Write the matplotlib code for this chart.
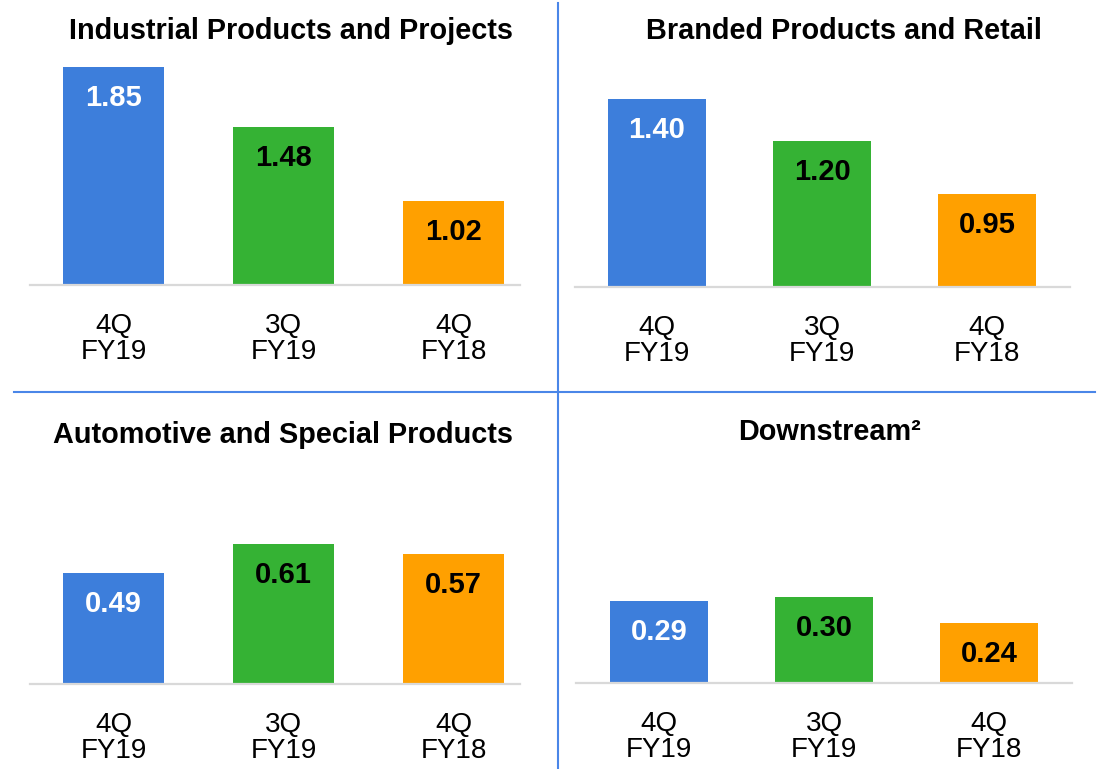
import matplotlib
matplotlib.use("Agg")
import matplotlib.pyplot as plt

plt.rcParams['font.family'] = ['Liberation Sans', 'DejaVu Sans']

W, H = 1101, 769

# chart data
quarters = ["4Q\nFY19", "3Q\nFY19", "4Q\nFY18"]
titles = ["Industrial Products and Projects", "Branded Products and Retail",
          "Automotive and Special Products", "Downstream²"]
industrial = [1.85, 1.48, 1.02]
branded = [1.40, 1.20, 0.95]
automotive = [0.49, 0.61, 0.57]
downstream = [0.29, 0.30, 0.24]
series = [industrial, branded, automotive, downstream]

bar_colors = ["#3D7EDB", "#35B234", "#FFA000"]
label_colors = ["white", "black", "black"]

# panel layout in pixels: left, top, right, baseline, first bar centre, spacing, ymin, px per unit
panels = [
    (30, 50, 520, 285, 113.5, 170, 0.499, 161.4),
    (575, 50, 1070, 287, 657, 165, 0.509, 211.1),
    (30, 450, 520, 684, 113.5, 170, 0.031, 241.7),
    (576, 450, 1072, 683, 659, 165, 0.101, 433.0),
]
title_pos = [(291, 31), (844, 31), (283, 435), (830, 432)]

fig = plt.figure(figsize=(W / 100, H / 100), dpi=100)

for vals, title, (l, t, r, b, c0, sp, ymin, scale), (tx, ty) in zip(series, titles, panels, title_pos):
    ax = fig.add_axes([l / W, 1 - b / H, (r - l) / W, (b - t) / H])
    x = range(len(vals))
    ax.bar(x, [v - ymin for v in vals], bottom=ymin, width=0.594, color=bar_colors, zorder=1)
    ax.set_xlim(-(c0 - l) / sp, 2 + (r - (c0 + 2 * sp)) / sp)
    ax.set_ylim(ymin, ymin + (b - t) / scale)
    for i, v in enumerate(vals):
        ax.annotate(f"{v:.2f}", (i, v), xytext=(0, -31), textcoords="offset pixels",
                    ha="center", va="center", fontsize=21, fontweight="bold",
                    color=label_colors[i])
    for s in ["top", "left", "right"]:
        ax.spines[s].set_visible(False)
    ax.spines["bottom"].set_color("#D9D9D9")
    ax.spines["bottom"].set_linewidth(1.6)
    ax.spines["bottom"].set_zorder(2)
    ax.set_yticks([])
    ax.set_xticks(list(x))
    ax.set_xticklabels(quarters, fontsize=20, linespacing=1.02)
    ax.tick_params(axis="x", length=0, pad=20)
    fig.text(tx / W, 1 - ty / H, title, ha="center", va="center",
             fontsize=20.8, fontweight="bold")

# blue dividers
fig.add_artist(plt.Line2D([558 / W, 558 / W], [0, 1 - 3 / H], color="#4A86E8", lw=1.5))
fig.add_artist(plt.Line2D([14 / W, 1095 / W], [1 - 392 / H, 1 - 392 / H], color="#4A86E8", lw=1.5))

fig.savefig("out.png", dpi=100)
